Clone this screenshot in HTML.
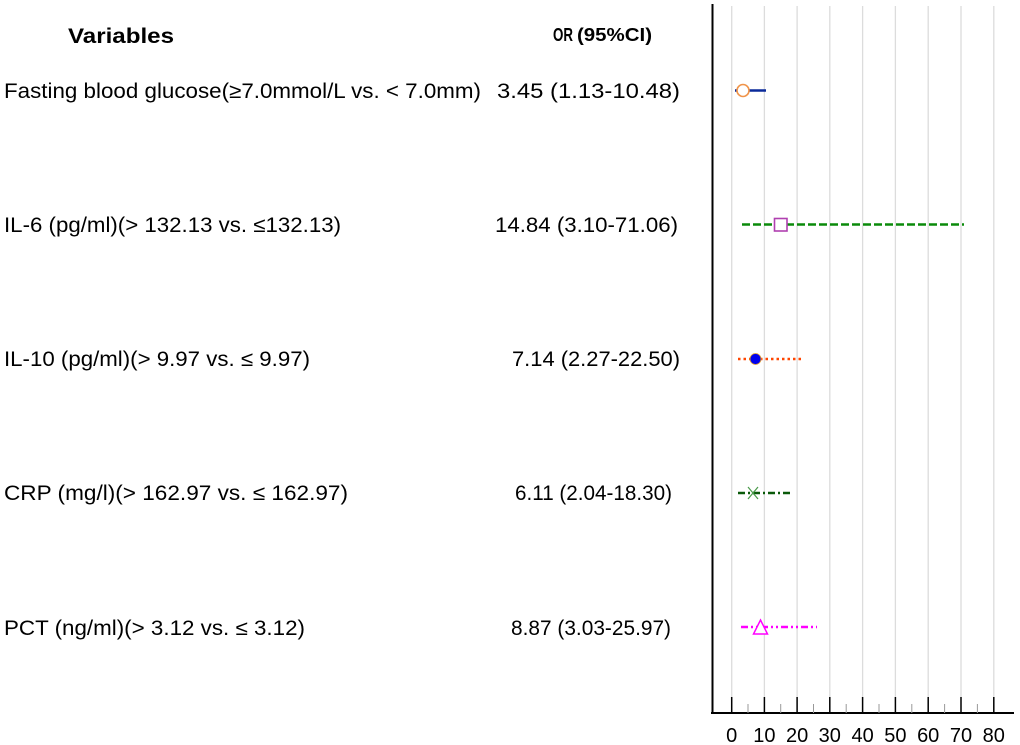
<!DOCTYPE html>
<html><head><style>
html,body{margin:0;padding:0;background:#fff;}
svg{display:block;}
text{font-family:"Liberation Sans",Arial,sans-serif;fill:#000;}
</style></head><body>
<svg width="1020" height="745" viewBox="0 0 1020 745" xmlns="http://www.w3.org/2000/svg">
<!-- grid -->
<g stroke="#dcdcdc" stroke-width="1.3">
<line x1="731.7" y1="6" x2="731.7" y2="697"/><line x1="764.4" y1="6" x2="764.4" y2="697"/>
<line x1="797.1" y1="6" x2="797.1" y2="697"/><line x1="829.8" y1="6" x2="829.8" y2="697"/>
<line x1="862.6" y1="6" x2="862.6" y2="697"/><line x1="895.4" y1="6" x2="895.4" y2="697"/>
<line x1="928.2" y1="6" x2="928.2" y2="697"/><line x1="961" y1="6" x2="961" y2="697"/>
<line x1="993.8" y1="6" x2="993.8" y2="697"/>
</g>
<!-- axes -->
<line x1="712.5" y1="4" x2="712.5" y2="714" stroke="#000" stroke-width="2"/>
<line x1="711" y1="713" x2="1014" y2="713" stroke="#000" stroke-width="2"/>
<g stroke="#000" stroke-width="1.5">
<line x1="731.7" y1="697" x2="731.7" y2="713"/><line x1="764.4" y1="697" x2="764.4" y2="713"/>
<line x1="797.1" y1="697" x2="797.1" y2="713"/><line x1="829.8" y1="697" x2="829.8" y2="713"/>
<line x1="862.6" y1="697" x2="862.6" y2="713"/><line x1="895.4" y1="697" x2="895.4" y2="713"/>
<line x1="928.2" y1="697" x2="928.2" y2="713"/><line x1="961" y1="697" x2="961" y2="713"/>
<line x1="993.8" y1="697" x2="993.8" y2="713"/>
</g>
<g stroke="#999" stroke-width="1">
<line x1="748" y1="704" x2="748" y2="713"/><line x1="780.7" y1="704" x2="780.7" y2="713"/>
<line x1="813.5" y1="704" x2="813.5" y2="713"/><line x1="846.2" y1="704" x2="846.2" y2="713"/>
<line x1="879" y1="704" x2="879" y2="713"/><line x1="911.8" y1="704" x2="911.8" y2="713"/>
<line x1="944.6" y1="704" x2="944.6" y2="713"/><line x1="977.4" y1="704" x2="977.4" y2="713"/>
</g>
<g font-size="20" text-anchor="middle">
<text x="731.7" y="742">0</text><text x="764.4" y="742">10</text><text x="797.1" y="742">20</text>
<text x="829.8" y="742">30</text><text x="862.6" y="742">40</text><text x="895.4" y="742">50</text>
<text x="928.2" y="742">60</text><text x="961" y="742">70</text><text x="993.8" y="742">80</text>
</g>
<!-- headers -->
<text x="68" y="43" font-size="21" font-weight="bold" textLength="106" lengthAdjust="spacingAndGlyphs">Variables</text>
<text x="553" y="41" font-size="18" font-weight="bold" textLength="20" lengthAdjust="spacingAndGlyphs">OR</text>
<text x="577" y="41" font-size="18" font-weight="bold" textLength="75" lengthAdjust="spacingAndGlyphs">(95%CI)</text>
<!-- labels -->
<g font-size="21">
<text x="4" y="98" textLength="477" lengthAdjust="spacingAndGlyphs">Fasting blood glucose(≥7.0mmol/L vs. &lt; 7.0mm)</text>
<text x="497" y="98" textLength="183" lengthAdjust="spacingAndGlyphs">3.45 (1.13-10.48)</text>
<text x="4" y="232" textLength="337" lengthAdjust="spacingAndGlyphs">IL-6 (pg/ml)(&gt; 132.13 vs. ≤132.13)</text>
<text x="495" y="232" textLength="183" lengthAdjust="spacingAndGlyphs">14.84 (3.10-71.06)</text>
<text x="4" y="366" textLength="306" lengthAdjust="spacingAndGlyphs">IL-10 (pg/ml)(&gt; 9.97 vs. ≤ 9.97)</text>
<text x="512" y="366" textLength="168" lengthAdjust="spacingAndGlyphs">7.14 (2.27-22.50)</text>
<text x="4" y="500" textLength="344" lengthAdjust="spacingAndGlyphs">CRP (mg/l)(&gt; 162.97 vs. ≤ 162.97)</text>
<text x="515" y="500" textLength="157" lengthAdjust="spacingAndGlyphs">6.11 (2.04-18.30)</text>
<text x="4" y="635" textLength="301" lengthAdjust="spacingAndGlyphs">PCT (ng/ml)(&gt; 3.12 vs. ≤ 3.12)</text>
<text x="511" y="635" textLength="160" lengthAdjust="spacingAndGlyphs">8.87 (3.03-25.97)</text>
</g>
<!-- series -->
<line x1="735" y1="90.5" x2="766" y2="90.5" stroke="#0a2a9a" stroke-width="2.5"/>
<circle cx="743" cy="90.5" r="6" fill="#fff" stroke="#f0944a" stroke-width="1.6"/>

<line x1="742" y1="224.5" x2="964" y2="224.5" stroke="#0a8a0a" stroke-width="2.5" stroke-dasharray="8,3"/>
<rect x="774.5" y="218.5" width="12.5" height="12.5" fill="#fff" stroke="#b040b0" stroke-width="1.6"/>

<line x1="738" y1="359" x2="804" y2="359" stroke="#ff4500" stroke-width="2.5" stroke-dasharray="2.5,3"/>
<circle cx="755.5" cy="359" r="5.5" fill="#0000ee" stroke="#e0a030" stroke-width="0.8"/>

<line x1="738" y1="493" x2="790" y2="493" stroke="#0a5a0a" stroke-width="2.5" stroke-dasharray="7,3,2,3"/>
<path d="M748 487 L758 499 M758 487 L748 499" stroke="#4a9a4a" stroke-width="1.2"/>

<line x1="741" y1="627" x2="817" y2="627" stroke="#ff00ff" stroke-width="2.5" stroke-dasharray="7,3,2,3,2,3"/>
<path d="M760.5 620 L767.5 634 L753.5 634 Z" fill="#fff" stroke="#ff00ff" stroke-width="1.5"/>
</svg>
</body></html>
